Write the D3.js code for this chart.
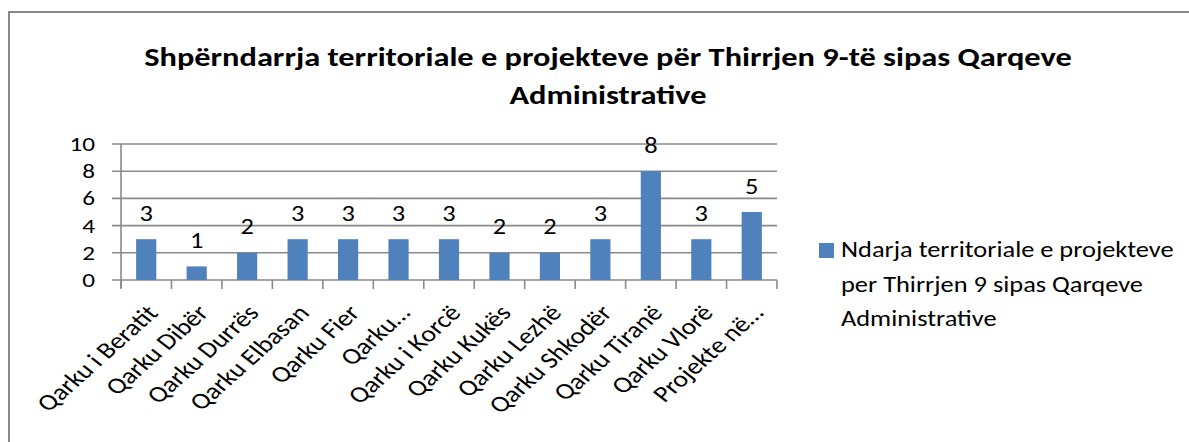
<!DOCTYPE html>
<html>
<head>
<meta charset="utf-8">
<script src="https://cdn.jsdelivr.net/npm/d3@7"></script>
<style>
  html, body { margin: 0; padding: 0; background: #fff; }
  svg { display: block; }
  text { font-family: Carlito, Lato, "Open Sans", sans-serif; fill: #000; }
</style>
</head>
<body>
<svg id="chart" width="1189" height="442"></svg>
<script>
const categories = ["Qarku i Beratit", "Qarku Dibër", "Qarku Durrës", "Qarku Elbasan", "Qarku Fier",
  "Qarku…", "Qarku i Korcë", "Qarku Kukës", "Qarku Lezhë", "Qarku Shkodër", "Qarku Tiranë",
  "Qarku Vlorë", "Projekte në…"];
const values = [3, 1, 2, 3, 3, 3, 3, 2, 2, 3, 8, 3, 5];
const yTicks = [0, 2, 4, 6, 8, 10];
const titleLines = ["Shpërndarrja territoriale e projekteve për Thirrjen 9-të sipas Qarqeve", "Administrative"];
const legendLines = ["Ndarja territoriale e projekteve", "per Thirrjen 9 sipas Qarqeve", "Administrative"];

const svg = d3.select("#chart");
const barColor = "#4F81BD";
const gridColor = "#898989";
const sx = 1.2; // horizontal text stretch of the reference picture

// chart border
svg.append("rect").attr("x", 9).attr("y", 12).attr("width", 1200).attr("height", 460)
  .attr("fill", "none").attr("stroke", "#888").attr("stroke-width", 2);

const plot = { left: 121, right: 777, top: 144, bottom: 280 };
const x = d3.scaleBand().domain(categories).range([plot.left, plot.right]).paddingInner(0.6).paddingOuter(0.3);
const xTickScale = d3.scaleLinear().domain([0, categories.length]).range([plot.left, plot.right]);
const y = d3.scaleLinear().domain([0, 10]).range([plot.bottom, plot.top]);

// title
svg.append("g").selectAll("text").data(titleLines).join("text")
  .attr("transform", (d, i) => `translate(608,${66 + i * 38}) scale(${sx},1)`)
  .attr("text-anchor", "middle").attr("font-size", 27).attr("font-weight", "bold")
  .text(d => d);

// gridlines
svg.append("g").selectAll("line").data(yTicks).join("line")
  .attr("x1", plot.left - 9).attr("x2", plot.right)
  .attr("y1", d => y(d)).attr("y2", d => y(d))
  .attr("stroke", gridColor).attr("stroke-width", 1.6);

// y axis labels
svg.append("g").selectAll("text").data(yTicks).join("text")
  .attr("transform", d => `translate(95,${y(d)}) scale(${sx},1)`)
  .attr("dy", "0.33em")
  .attr("text-anchor", "end").attr("font-size", 21)
  .text(d => d);

// y axis line
svg.append("line").attr("x1", plot.left).attr("x2", plot.left)
  .attr("y1", plot.top).attr("y2", plot.bottom + 8)
  .attr("stroke", gridColor).attr("stroke-width", 1.6);

// x ticks
svg.append("g").selectAll("line").data(d3.range(categories.length + 1)).join("line")
  .attr("x1", d => xTickScale(d)).attr("x2", d => xTickScale(d))
  .attr("y1", plot.bottom).attr("y2", plot.bottom + 9)
  .attr("stroke", gridColor).attr("stroke-width", 1.6);

// bars
svg.append("g").selectAll("rect").data(values).join("rect")
  .attr("x", (d, i) => x(categories[i])).attr("width", x.bandwidth())
  .attr("y", d => y(d)).attr("height", d => y(0) - y(d))
  .attr("fill", barColor);

// data labels
svg.append("g").selectAll("text").data(values).join("text")
  .attr("transform", (d, i) => `translate(${x(categories[i]) + x.bandwidth() / 2},${y(d) - 18.5}) scale(${sx},1)`)
  .attr("text-anchor", "middle").attr("font-size", 22)
  .text(d => d);

// x labels
svg.append("g").selectAll("text").data(categories).join("text")
  .attr("text-anchor", "end").attr("font-size", 23)
  .attr("transform", d => `translate(${x(d) + x.bandwidth() / 2 + 13},314) scale(${sx},1) rotate(-47)`)
  .text(d => d);

// legend
svg.append("rect").attr("x", 819).attr("y", 243).attr("width", 15).attr("height", 15).attr("fill", barColor);
svg.append("g").selectAll("text").data(legendLines).join("text")
  .attr("transform", (d, i) => `translate(841,${257 + i * 34.5}) scale(${sx},1)`)
  .attr("font-size", 22)
  .text(d => d);
</script>
</body>
</html>
